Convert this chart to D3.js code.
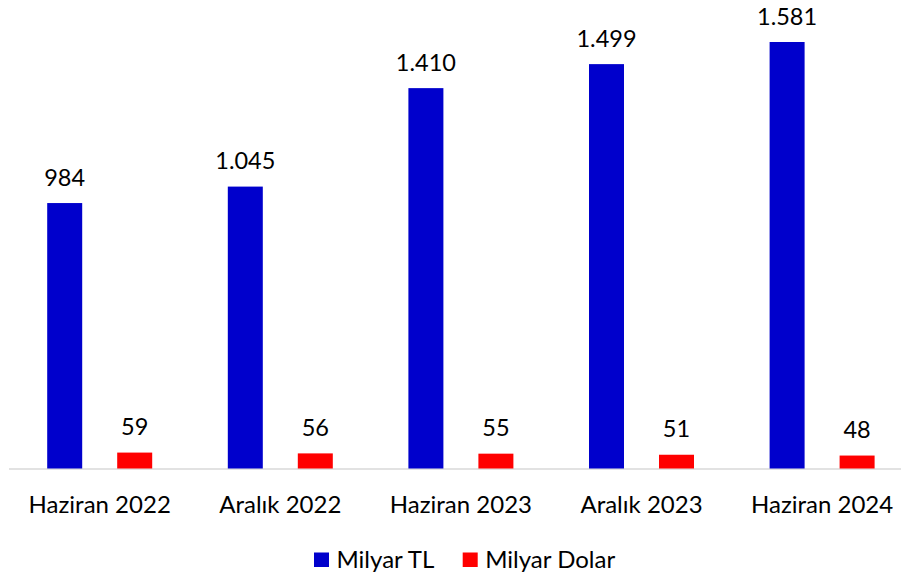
<!DOCTYPE html>
<html><head><meta charset="utf-8">
<script src="https://cdn.jsdelivr.net/npm/d3@7"></script>
<style>body{margin:0;background:#fff}svg{display:block}text{font-family:Lato,"Noto Sans",sans-serif;fill:#000}</style>
</head><body>
<script>
const categories = ["Haziran 2022","Aralık 2022","Haziran 2023","Aralık 2023","Haziran 2024"];
const seriesNames = ["Milyar TL","Milyar Dolar"];
const milyarTL = [984,1045,1410,1499,1581];
const milyarDolar = [59,56,55,51,48];
const tlLabels = ["984","1.045","1.410","1.499","1.581"];
const dolarLabels = ["59","56","55","51","48"];
const colors = ["#0000CC","#FF0000"];

const W=902,H=578;
const svg=d3.select("body").append("svg").attr("width",W).attr("height",H);
const x=d3.scaleBand().domain(categories).range([9.4,912.4]).paddingInner(0).paddingOuter(0);
const x1=d3.scaleBand().domain(seriesNames).range([0,x.bandwidth()]).paddingInner(0.5).paddingOuter(0.54);
const y=d3.scaleLinear().domain([0,1581]).range([468.5,42]);
const data=categories.map((c,i)=>({c,vals:[{s:seriesNames[0],v:milyarTL[i],l:tlLabels[i]},{s:seriesNames[1],v:milyarDolar[i],l:dolarLabels[i]}]}));

svg.append("line").attr("x1",9).attr("x2",901).attr("y1",469).attr("y2",469).attr("stroke","#d9d9d9").attr("stroke-width",1.5);

const g=svg.selectAll("g.cat").data(data).enter().append("g").attr("transform",d=>`translate(${x(d.c)},0)`);
g.selectAll("rect").data(d=>d.vals).enter().append("rect")
 .attr("x",d=>x1(d.s)).attr("width",x1.bandwidth())
 .attr("y",d=>y(d.v)).attr("height",d=>y(0)-y(d.v))
 .attr("fill",(d,i)=>colors[i]);
g.selectAll("text.val").data(d=>d.vals).enter().append("text").attr("class","val")
 .attr("x",d=>x1(d.s)+x1.bandwidth()/2).attr("y",d=>y(d.v)-17.5)
 .attr("text-anchor","middle").attr("font-size",23.5).text(d=>d.l);

const xa=d3.axisBottom(x).tickSize(0).tickPadding(0);
const ax=svg.append("g").attr("transform","translate(0,468.5)").call(xa);
ax.select(".domain").remove();
ax.selectAll("text").attr("dy",null).attr("y",44).attr("font-size",24).style("font-family","Lato,'Noto Sans',sans-serif").attr("fill","#000");

const legX=[314,462.7];
const lg=svg.selectAll("g.leg").data(seriesNames).enter().append("g").attr("transform",(d,i)=>`translate(${legX[i]},0)`);
lg.append("rect").attr("x",0).attr("y",552.5).attr("width",15).attr("height",14.5).attr("fill",(d,i)=>colors[i]);
lg.append("text").attr("x",22.5).attr("y",567.5).attr("font-size",24).text(d=>d);
</script>
</body></html>
